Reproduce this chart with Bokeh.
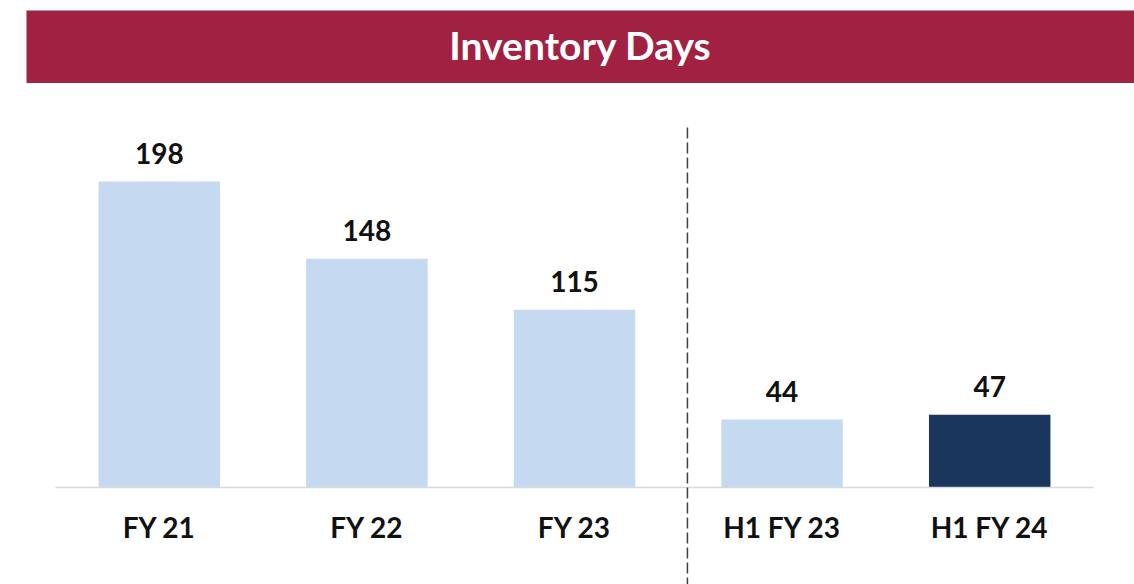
import numpy as np
from bokeh.plotting import figure
from bokeh.models import ColumnDataSource, Range1d, Label
from bokeh.layouts import column
from bokeh.embed import file_html
from bokeh.resources import INLINE
from bokeh.core.properties import value

# ---- data ----
title_text = "Inventory Days"
categories = ["FY 21", "FY 22", "FY 23", "H1 FY 23", "H1 FY 24"]
inventory_days = [198, 148, 115, 44, 47]
highlight = "H1 FY 24"
divider_after = 3.044  # between annual and half-year groups

LIGHT = "#C5D9F1"
NAVY = "#1A365D"
BANNER = "#A02142"
FONT = "Lato"

X_RANGE = (-0.1397, 5.1975)

# ---- banner ----
banner = figure(width=1134, height=83, x_range=Range1d(0, 1), y_range=Range1d(0, 1),
                x_axis_type=None, y_axis_type=None, toolbar_location=None,
                output_backend="svg", min_border_left=26, min_border_right=0,
                min_border_top=10, min_border_bottom=0)
banner.background_fill_color = BANNER
banner.border_fill_color = "white"
banner.outline_line_color = None
banner.grid.visible = False
banner.add_layout(Label(x=0.5, y=0.53, text=title_text, text_align="center",
                        text_baseline="middle", text_color="white",
                        text_font=FONT, text_font_style="bold",
                        text_font_size="39px"))

# ---- chart ----
n = len(categories)
xpos = np.arange(n) + 0.5
colors = [NAVY if c == highlight else LIGHT for c in categories]
src = ColumnDataSource(dict(x=xpos, cat=categories, val=inventory_days, color=colors,
                            lbl=[str(v) for v in inventory_days],
                            zero=[0] * n))

p = figure(width=1134, height=501, x_range=Range1d(*X_RANGE),
           y_range=Range1d(-62.8, 261.5), x_axis_type=None, y_axis_type=None,
           toolbar_location=None, output_backend="svg",
           min_border_left=26, min_border_right=0, min_border_top=0, min_border_bottom=0)
p.outline_line_color = None
p.grid.visible = False
p.background_fill_color = "white"
p.border_fill_color = "white"

p.vbar(x="x", top="val", width=0.585, source=src, fill_color="color", line_color=None)

# baseline across the category band
p.segment(x0=[0], y0=[0], x1=[n], y1=[0], line_color="#D9D9D9", line_width=1.5)

# dashed divider
p.segment(x0=[divider_after], y0=[233], x1=[divider_after], y1=[-62.8],
          line_color="#404040", line_width=1.5, line_dash="11 4")

p.text(x="x", y="val", text="lbl", source=src, text_align="center",
       text_baseline="alphabetic", y_offset=-28, text_color="#111111",
       text_font=value(FONT), text_font_style="bold", text_font_size="28px")

p.text(x="x", y="zero", text="cat", source=src, text_align="center",
       text_baseline="alphabetic", y_offset=40, text_color="#111111",
       text_font=value(FONT), text_font_style="bold", text_font_size="28px")

layout = column(banner, p, spacing=0)
open("out.html", "w").write(file_html(layout, INLINE))
